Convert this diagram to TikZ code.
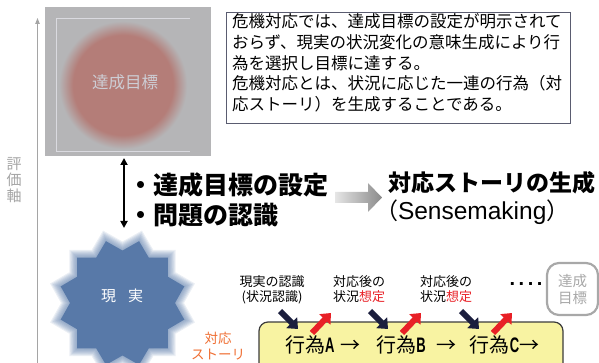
\documentclass[tikz,border=0pt]{standalone}
\usepackage{fontspec}
\setmainfont{Noto Sans CJK JP}
\newfontfamily\lsans{Liberation Sans}
\newfontfamily\lnarrowb[FakeStretch=0.62]{Liberation Sans Bold}
\usetikzlibrary{shapes.geometric,arrows.meta}
\definecolor{goalgray}{RGB}{181,181,183}
\definecolor{goalred}{RGB}{180,125,120}
\definecolor{goaltext}{RGB}{205,205,212}
\definecolor{goalline}{RGB}{218,218,224}
\definecolor{starblue}{RGB}{88,121,168}
\definecolor{axisgray}{RGB}{165,165,165}
\definecolor{boxline}{RGB}{90,92,112}
\definecolor{navyarrow}{RGB}{27,30,62}
\definecolor{redarrow}{RGB}{232,32,38}
\definecolor{storyorange}{RGB}{239,110,50}
\definecolor{actyellow}{RGB}{248,243,162}
\definecolor{actline}{RGB}{60,60,60}
\definecolor{endgray}{RGB}{168,168,168}
\definecolor{gradgray}{RGB}{138,138,138}
\pgfdeclareradialshading{goalshade}{\pgfpoint{0bp}{0bp}}{color(0bp)=(goalred); color(16bp)=(goalred); color(20.5bp)=(goalgray); color(25bp)=(goalgray); color(50bp)=(goalgray)}
\begin{document}
\begin{tikzpicture}[x=1pt,y=-1pt,
  realstar/.style={star, star points=12, star point ratio=1.22, shape border rotate=15, inner sep=0pt, draw=none},
  plain/.style={inner sep=0pt, outer sep=0pt},
  navyblk/.style={draw=navyarrow, line width=6pt, -{Triangle[length=9pt,width=15pt]}},
  redblk/.style={draw=redarrow, line width=6pt, -{Triangle[length=9pt,width=15pt]}},
  smalllabel/.style={plain, align=center, font=\fontsize{13}{15}\selectfont}
]
\useasboundingbox (0,0) rectangle (599,363);
\begin{scope}
\clip (0,0) rectangle (599,363);
% evaluation axis
\coordinate (axbot) at (37.5,370);
\coordinate (axtop) at (37.5,18);
\draw[axisgray, line width=1pt, -{Triangle[length=6pt,width=4.5pt]}] (axbot) -- (axtop);
\node[plain, align=center, text=axisgray, font=\fontsize{15}{16}\selectfont] (axislabel) at (14,180) {評\\価\\軸};
% goal box
\node[plain, fill=goalgray, minimum width=166pt, minimum height=149pt] (goal) at (128,81.5) {};
\begin{scope}
\clip (45,7) rectangle (211,156);
\shade[shading=goalshade] (123,85) circle (78);
\end{scope}
\draw[goalline, line width=0.6pt] (190,18) -- (56,18) -- (56,151) -- (190,151);
\node[plain, text=goaltext, font=\fontsize{16.5}{18}\selectfont] (goaltxt) at (125,82) {達成目標};
% description box
\node[plain, draw=boxline, line width=1pt, minimum width=344pt, minimum height=111pt] (descbox) at (398,68.5) {};
\node[plain, anchor=north west, align=left, font=\fontsize{16.5}{20.6}\selectfont] (desc) at (232,14) {危機対応では、達成目標の設定が明示されて\\おらず、現実の状況変化の意味生成により行\\為を選択し目標に達する。\\危機対応とは、状況に応じた一連の行為（対\\応ストーリ）を生成することである。};
% double arrow
\coordinate (dtop) at (124,158);
\coordinate (dbot) at (124,228);
\draw[line width=1.8pt, {Triangle[length=7pt,width=7pt]}-{Triangle[length=7pt,width=7pt]}] (dtop) -- (dbot);
\node[plain, anchor=west, font=\fontsize{25}{27}\selectfont\bfseries] (setting) at (128,185) {・達成目標の設定};
\node[plain, anchor=west, font=\fontsize{25}{27}\selectfont\bfseries] (problem) at (128,215) {・問題の認識};
% gradient arrow
\shade[left color=gray!20, right color=gradgray] (335,192) -- (368,192) -- (368,183) -- (382,197.5) -- (368,212) -- (368,203) -- (335,203) -- cycle;
\node[plain, anchor=west, font=\fontsize{23}{25}\selectfont\bfseries] (story) at (388,183) {対応ストーリの生成};
\node[plain, anchor=west, font=\fontsize{23}{25}\selectfont] (sense) at (375,212) {（{\lsans\fontsize{24.5}{25}\selectfont Sensemaking}）};
% reality star
\foreach \s in {150,147,...,122}
  \node[realstar, fill=starblue, fill opacity=0.12, minimum size=\s pt] at (122.5,303) {};
\node[realstar, fill=starblue, minimum size=128pt] (real) at (122.5,303) {};
\node[plain, text=white, font=\fontsize{15}{16}\selectfont] (realtxt) at (122,296) {現\hspace{12pt}実};
\node[smalllabel, text=storyorange, font=\fontsize{13.5}{16}\selectfont] (storylabel) at (218,346) {対応\\ストーリ};
% action box
\node[plain, draw=actline, line width=1.2pt, fill=actyellow, rounded corners=9pt, minimum width=304pt, minimum height=66pt] (acts) at (411,355) {};
\node[plain, anchor=west, font=\fontsize{20}{22}\selectfont] (actline) at (285,345) {行為{\lnarrowb\fontsize{21}{22}\selectfont A}\hspace{6pt}→\hspace{16pt}行為{\lnarrowb\fontsize{21}{22}\selectfont B}\hspace{11pt}→\hspace{13pt}行為{\lnarrowb\fontsize{21}{22}\selectfont C}→};
% labels above
\node[smalllabel] (recog) at (272,289.5) {現実の認識\\(状況認識)};
\node[smalllabel] (post1) at (359,289.5) {対応後の\\状況\textcolor{redarrow}{想定}};
\node[smalllabel] (post2) at (446,289.5) {対応後の\\状況\textcolor{redarrow}{想定}};
\node[plain, font=\fontsize{20}{22}\selectfont\lsans\bfseries] (dots) at (526,284) {.\hspace{3.5pt}.\hspace{3.5pt}.\hspace{3.5pt}.};
\node[plain, draw=endgray, line width=2.2pt, rounded corners=12pt, minimum width=51pt, minimum height=52pt, align=center, text=endgray, font=\fontsize{14.5}{17}\selectfont] (endgoal) at (572.5,289) {達成\\目標};
% in/out arrows
\coordinate (n1s) at (280,311); \coordinate (n1e) at (298,329);
\coordinate (n2s) at (370,311); \coordinate (n2e) at (388,329);
\coordinate (n3s) at (461,311); \coordinate (n3e) at (479,329);
\coordinate (r1s) at (312,333); \coordinate (r1e) at (331,313);
\coordinate (r2s) at (402,333); \coordinate (r2e) at (421,313);
\coordinate (r3s) at (493,333); \coordinate (r3e) at (512,313);
\draw[navyblk] (n1s) -- (n1e);
\draw[navyblk] (n2s) -- (n2e);
\draw[navyblk] (n3s) -- (n3e);
\draw[redblk] (r1s) -- (r1e);
\draw[redblk] (r2s) -- (r2e);
\draw[redblk] (r3s) -- (r3e);
\end{scope}
\end{tikzpicture}
\end{document}
